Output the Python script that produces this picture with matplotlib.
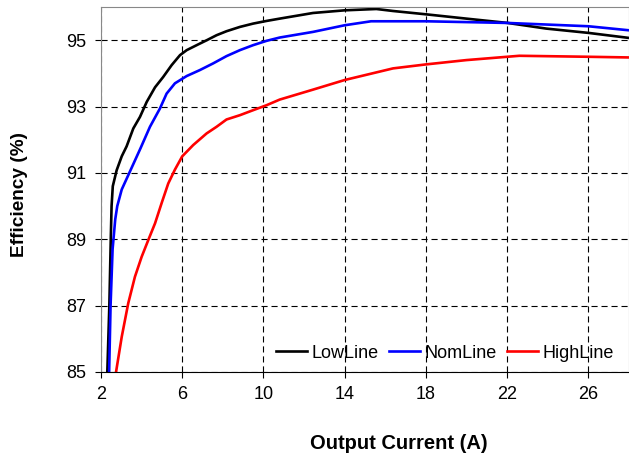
import matplotlib
matplotlib.use("Agg")
import matplotlib.pyplot as plt

plt.rcParams['font.family'] = ['Liberation Sans', 'DejaVu Sans']

low_x = [2.31, 2.41, 2.48, 2.52, 2.58, 2.77, 3.02, 3.26, 3.59, 3.92, 4.25, 4.66, 5.06, 5.48, 5.89, 6.22, 6.71,
         7.21, 7.69, 8.18, 8.84, 9.49, 10.15, 10.8, 12.44, 14.0, 15.56, 16.38, 18.0, 19.99, 22.02, 23.92, 26.0, 27.97]
low_y = [85.0, 87.0, 89.0, 90.0, 90.6, 91.08, 91.5, 91.8, 92.34, 92.69, 93.14, 93.58, 93.89, 94.25, 94.55, 94.70, 94.85,
         95.0, 95.15, 95.27, 95.40, 95.50, 95.58, 95.65, 95.82, 95.9, 95.94, 95.88, 95.78, 95.65, 95.52, 95.35, 95.22, 95.07]

nom_x = [2.40, 2.47, 2.57, 2.70, 2.80, 3.02, 3.43, 3.95, 4.41, 4.90, 5.23, 5.64, 6.22, 6.87, 7.52, 8.18, 8.84, 9.49,
         10.15, 10.8, 12.44, 14.0, 15.3, 18.0, 22.0, 26.0, 27.97]
nom_y = [85.0, 87.0, 88.7, 89.6, 90.0, 90.5, 91.05, 91.75, 92.39, 92.94, 93.39, 93.70, 93.92, 94.10, 94.30, 94.52, 94.70, 94.85,
         94.98, 95.08, 95.25, 95.45, 95.57, 95.57, 95.52, 95.42, 95.3]

high_x = [2.74, 3.02, 3.34, 3.67, 4.0, 4.33, 4.66, 4.99, 5.31, 5.64, 6.0, 6.54, 7.2, 7.69, 8.18, 8.84, 9.49, 10.15,
          10.8, 12.44, 14.0, 16.38, 18.0, 19.99, 22.0, 22.6, 26.0, 27.97]
high_y = [85.0, 86.06, 87.07, 87.87, 88.47, 88.98, 89.48, 90.1, 90.68, 91.1, 91.5, 91.84, 92.19, 92.39, 92.61, 92.74, 92.89, 93.04,
          93.21, 93.51, 93.8, 94.15, 94.27, 94.4, 94.5, 94.53, 94.5, 94.48]

x_ticks = [2, 6, 10, 14, 18, 22, 26]
y_ticks = [85, 87, 89, 91, 93, 95]

fig = plt.figure(figsize=(6.29, 4.58), dpi=100)
ax = fig.add_axes([0.1606, 0.1878, 0.8394, 0.7969])

ax.plot(low_x, low_y, color='black', lw=1.9, label='LowLine')
ax.plot(nom_x, nom_y, color='blue', lw=1.9, label='NomLine')
ax.plot(high_x, high_y, color='red', lw=1.9, label='HighLine')

ax.set_xlim(2, 28)
ax.set_ylim(85, 96)
ax.set_xticks(x_ticks)
ax.set_yticks(y_ticks)
ax.tick_params(labelsize=13, direction='out', length=4.3, color='black')
ax.tick_params(axis='y', pad=6.5)
ax.tick_params(axis='x', pad=6)
ax.grid(True, color='black', linestyle=(0, (5.5, 3.5)), lw=0.8)
ax.set_axisbelow(True)

for s in ['left', 'top', 'right']:
    ax.spines[s].set_color('#888888')
ax.spines['bottom'].set_color('black')

ax.set_xlabel('Output Current (A)', fontsize=14.5, fontweight='bold', va='center')
ax.xaxis.set_label_coords(0.5634, -0.195)
ax.set_ylabel('Efficiency (%)', fontsize=13.7, fontweight='bold', va='center')
ax.yaxis.set_label_coords(-0.155, 0.485)

ax.legend(loc='center right', bbox_to_anchor=(0.9716, 0.052), ncol=3, frameon=False, fontsize=13,
          handlelength=1.7, handletextpad=0.25, columnspacing=0.6, borderpad=0, borderaxespad=0)

fig.savefig('out.png', dpi=100)
